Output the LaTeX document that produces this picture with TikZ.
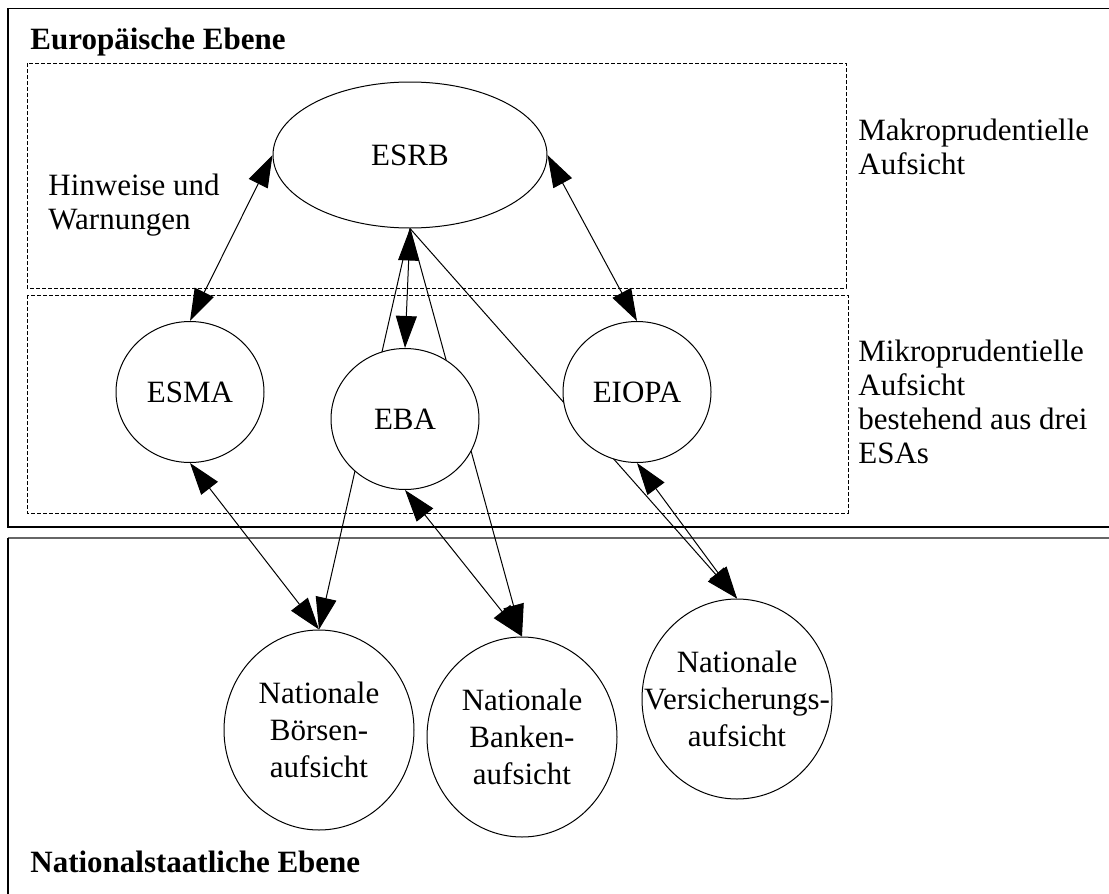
\documentclass[tikz,border=0pt]{standalone}
\usepackage{fontspec}
\setmainfont{Liberation Serif}
\usetikzlibrary{shapes.geometric,arrows.meta}
\pgfdeclarelayer{bg}
\pgfsetlayers{bg,main}
\begin{document}
\begin{tikzpicture}[x=0.5pt,y=-0.5pt,
  txt/.style={font=\fontsize{15.5}{17}\selectfont, inner sep=0pt, align=left},
  ttl/.style={font=\bfseries\fontsize{15.5}{17}\selectfont, inner sep=0pt},
  org/.style={draw, ellipse, fill=white, line width=0.5pt, inner sep=0pt, font=\fontsize{15.5}{18.5}\selectfont, align=center},
  esa/.style={org, minimum width=74pt, minimum height=70.5pt},
  nat/.style={org, inner sep=-18pt, minimum width=95pt, minimum height=100pt},
  con/.style={line width=0.5pt, -{Triangle[length=16pt,width=10.5pt]}},
  dcon/.style={line width=0.5pt, {Triangle[length=16pt,width=10.5pt]}-{Triangle[length=16pt,width=10.5pt]}},
  dbox/.style={draw, dash pattern=on 2pt off 1pt, line width=0.4pt},
]
\useasboundingbox (0,0) rectangle (1109,894);

% frames
\begin{pgfonlayer}{bg}
\draw[line width=0.75pt] (1109,8.5) -- (8,8.5) -- (8,527) -- (1109,527);
\draw[line width=0.8pt, black!60] (1109,538) -- (8,538);
\draw[line width=0.75pt] (8,538) -- (8,894);
\draw[dbox] (27,63) rectangle (846,288);
\draw[dbox] (27,295) rectangle (848,513);
\end{pgfonlayer}

% titles and labels
\node[ttl, anchor=west] (eu) at (30,42) {Europäische Ebene};
\node[ttl, anchor=west] (nat) at (30,862) {Nationalstaatliche Ebene};
\node[txt, anchor=west] (hw) at (48,205) {Hinweise und\\Warnungen};
\node[txt, anchor=west] (makro) at (858,147) {Makroprudentielle\\Aufsicht};
\node[txt, anchor=west] (mikro) at (858,402) {Mikroprudentielle\\Aufsicht\\bestehend aus drei\\ESAs};

% organisations
\node[org, minimum width=137pt, minimum height=73pt] (esrb) at (410,155) {ESRB};
\node[esa] (esma) at (190,392) {ESMA};
\node[esa] (eba) at (405,419) {EBA};
\node[esa] (eiopa) at (637,392) {EIOPA};
\node[nat] (boe) at (319,730) {Nationale\\Börsen-\\aufsicht};
\node[nat] (ban) at (522,737) {Nationale\\Banken-\\aufsicht};
\node[nat] (ver) at (737,699) {Nationale\\Versicherungs-\\aufsicht};

% connectors
\draw[dcon] (esrb.west) -- (esma.north);
\draw[dcon] (esrb.east) -- (eiopa.north);
\draw[dcon] (esrb.south) -- (eba.north);
\draw[dcon] (esma.south) -- (boe.north);
\draw[dcon] (eba.south) -- (ban.north);
\draw[dcon] (eiopa.south) -- (ver.north);
\begin{pgfonlayer}{bg}
\draw[con] (esrb.south) -- (boe.north);
\draw[con] (esrb.south) -- (ban.north);
\draw[con] (esrb.south) -- (ver.north);
\end{pgfonlayer}
\end{tikzpicture}
\end{document}
